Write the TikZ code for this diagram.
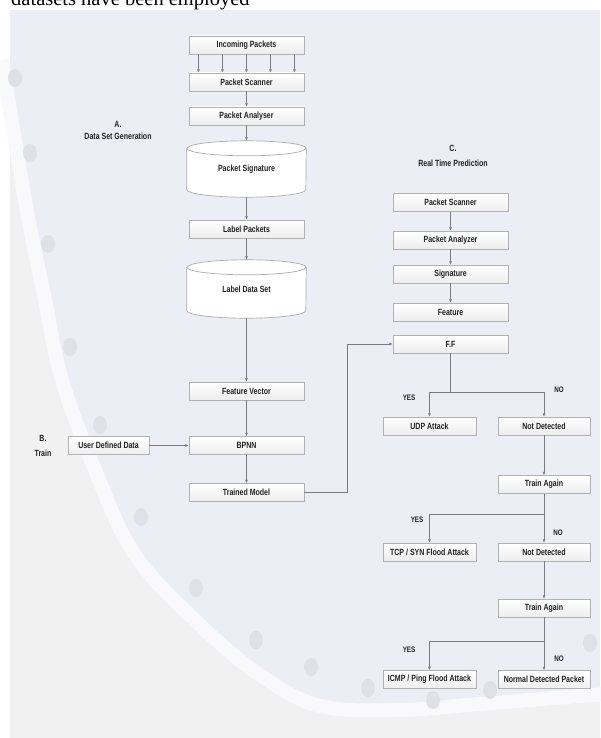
\documentclass[tikz,border=0pt]{standalone}
\usepackage{fontspec}
\setmainfont{Liberation Serif}
\newfontfamily\boxfont{Liberation Sans}[FakeStretch=0.78]
\usetikzlibrary{arrows.meta,backgrounds,calc,positioning}

\definecolor{panel}{HTML}{ECEEF6}
\definecolor{lowpanel}{HTML}{F1F1F1}
\definecolor{band}{HTML}{F9F9FB}
\definecolor{dot}{HTML}{E0E1E6}
\definecolor{ink}{HTML}{222222}
\definecolor{wire}{HTML}{7C7C7C}

\tikzset{
  box/.style={draw=gray!60, top color=white, bottom color=gray!14,
              minimum width=115pt, minimum height=18pt, inner sep=0pt,
              font=\boxfont\bfseries\fontsize{9}{10}\selectfont, text=ink},
  halfbox/.style={box, minimum width=92.5pt},
  dbase/.style={minimum width=119pt, inner sep=0pt,
                font=\boxfont\bfseries\fontsize{9}{10}\selectfont, text=ink},
  dbline/.style={draw=gray!65, line width=0.7pt},
  note/.style={align=center, text=ink,
               font=\boxfont\bfseries\fontsize{9}{13}\selectfont},
  tag/.style={text=ink, font=\boxfont\bfseries\fontsize{8}{9}\selectfont},
  wire/.style={draw=wire, line width=0.7pt},
  flow/.style={wire, -{Latex[length=3.5pt,width=3pt]}},
}

\newcommand{\dbshape}[1]{%
  \draw [dbline, fill=white] ([yshift=-7.5pt]#1.north west)
    -- ([yshift=7.5pt]#1.south west)
    arc [start angle=180, end angle=360, x radius=59.5pt, y radius=7.5pt]
    -- ([yshift=-7.5pt]#1.north east)
    arc [start angle=0, end angle=180, x radius=59.5pt, y radius=7.5pt]
    -- cycle ;
  \draw [dbline] ([yshift=-7.5pt]#1.north west)
    arc [start angle=180, end angle=360, x radius=59.5pt, y radius=7.5pt] ;
}

\begin{document}
\begin{tikzpicture}[x=1pt,y=1pt]

  \useasboundingbox (0,0) rectangle (600,-738) ;

  % page and slide background
  \begin{scope}[on background layer]
    \fill [white] (0,0) rectangle (600,-738) ;
    \fill [panel] (10,-10) rectangle (600,-738) ;
    \fill [lowpanel] (10,-90) -- plot [smooth, tension=0.6] coordinates
      {(10,-90) (25,-200) (45,-300) (62,-380) (95,-470) (135,-555)
       (200,-625) (260,-675) (320,-706) (400,-710) (480,-704) (600,-694)}
      -- (600,-738) -- (10,-738) -- cycle ;
    \draw [band, line width=14pt] plot [smooth, tension=0.6] coordinates
      {(2,-60) (25,-200) (45,-300) (62,-380) (95,-470) (135,-555)
       (200,-625) (260,-675) (320,-706) (400,-710) (480,-704) (605,-694)} ;
    \foreach \px/\py in {15/78, 30/153, 48/244, 70/347, 100/425, 141/517,
                         196/588, 256/640, 311/667, 368/688, 433/700,
                         490/690, 590/643}
      \fill [dot] (\px,-\py) ellipse [x radius=7pt, y radius=9pt] ;
  \end{scope}

  \node [anchor=base west, inner sep=0pt, font=\fontsize{20.5}{22}\selectfont]
    (caption) at (11,-6) {datasets have been employed} ;

  % A. data set generation
  \node [box]   (inc)   at (246.5,-45)    {Incoming Packets} ;
  \node [box]   (scanA) at (246.5,-82)    {Packet Scanner} ;
  \node [box]   (anaA)  at (246.5,-116)   {Packet Analyser} ;
  \node [dbase, minimum height=56pt] (psig) at (246.5,-169) {Packet Signature} ;
  \node [box]   (lblp)  at (246.5,-229)   {Label Packets} ;
  \node [dbase, minimum height=58pt] (lset) at (246.5,-289) {Label Data Set} ;
  \node [box]   (fvec)  at (246.5,-391)   {Feature Vector} ;
  \node [box]   (bpnn)  at (246.5,-445.5) {BPNN} ;
  \node [box]   (model) at (246.5,-492.5) {Trained Model} ;
  \node [box, minimum width=81pt] (user) at (108.5,-445.5) {User Defined Data} ;

  \begin{scope}[on background layer]
    \dbshape{psig}
    \dbshape{lset}
  \end{scope}

  % C. real time prediction
  \node [box]     (scanC)  at (450.5,-202.5) {Packet Scanner} ;
  \node [box]     (anaC)   at (450.5,-240)   {Packet Analyzer} ;
  \node [box]     (sigC)   at (450.5,-274)   {Signature} ;
  \node [box]     (feat)   at (450.5,-312)   {Feature} ;
  \node [box]     (ff)     at (450.5,-344)   {F.F} ;
  \node [halfbox] (udp)    at (429.5,-426)   {UDP Attack} ;
  \node [halfbox] (nd1)    at (544,-426)     {Not Detected} ;
  \node [halfbox] (ta1)    at (544,-484.5)   {Train Again} ;
  \node [halfbox] (tcp)    at (429.5,-552)   {TCP / SYN Flood Attack} ;
  \node [halfbox] (nd2)    at (544,-552)     {Not Detected} ;
  \node [halfbox] (ta2)    at (544,-608)     {Train Again} ;
  \node [halfbox] (icmp)   at (429.5,-679.5) {ICMP / Ping Flood Attack} ;
  \node [halfbox] (normal) at (544,-679.5)   {Normal Detected Packet} ;

  % section titles
  \node [note, font=\boxfont\bfseries\fontsize{9}{12}\selectfont]
        (secA) at (118,-130)   {A.\\Data Set Generation} ;
  \node [note, font=\boxfont\bfseries\fontsize{9}{15}\selectfont]
        (secB) at (43,-445.5)  {B.\\Train} ;
  \node [note, font=\boxfont\bfseries\fontsize{9}{15}\selectfont]
        (secC) at (453,-155.5) {C.\\Real Time Prediction} ;

  \node [tag] (yes1) at (409,-398) {YES} ;
  \node [tag] (no1)  at (559,-390) {NO} ;
  \node [tag] (yes2) at (417,-520) {YES} ;
  \node [tag] (no2)  at (558,-533) {NO} ;
  \node [tag] (yes3) at (409,-650) {YES} ;
  \node [tag] (no3)  at (559,-659) {NO} ;

  % connectors, column A
  \foreach \dx in {-48,-24,0,24,48}
    \draw [flow] ([xshift=\dx pt]inc.south) -- ([xshift=\dx pt]scanA.north) ;
  \draw [flow] (scanA) -- (anaA) ;
  \draw [flow] (anaA)  -- (psig) ;
  \draw [flow] (psig)  -- (lblp) ;
  \draw [flow] (lblp)  -- (lset) ;
  \draw [flow] (lset)  -- (fvec) ;
  \draw [flow] (fvec)  -- (bpnn) ;
  \draw [flow] (bpnn)  -- (model) ;
  \draw [flow] (user)  -- (bpnn) ;
  \draw [flow] (model.east) -- ++(43.5,0) |- (ff.west) ;

  % connectors, column C
  \draw [flow] (scanC) -- (anaC) ;
  \draw [flow] (anaC)  -- (sigC) ;
  \draw [flow] (sigC)  -- (feat) ;
%
  \draw [wire] (ff.south) -- ++(0,-39) coordinate (fork1) ;
  \draw [flow] (fork1) -| (udp.north) ;
  \draw [flow] (fork1) -| (nd1.north) ;
  \draw [flow] (nd1) -- (ta1) ;
%
  \path (ta1.south) ++(0,-20.5) coordinate (fork2) ;
  \draw [flow] (ta1) -- (nd2) ;
  \draw [flow] (fork2) -| (tcp.north) ;
  \draw [flow] (nd2) -- (ta2) ;
%
  \path (ta2.south) ++(0,-24) coordinate (fork3) ;
  \draw [flow] (ta2) -- (normal) ;
  \draw [flow] (fork3) -| (icmp.north) ;

\end{tikzpicture}
\end{document}
